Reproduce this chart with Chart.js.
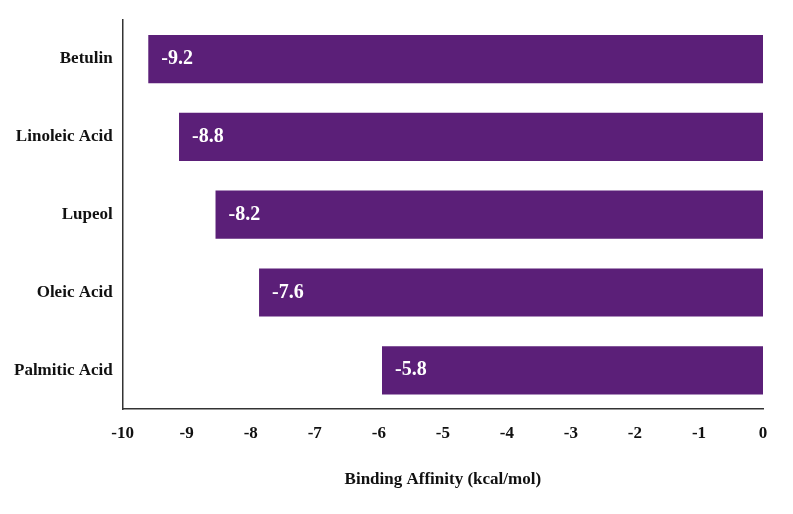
<!DOCTYPE html>
<html>
<head>
<meta charset="utf-8">
<script src="https://cdn.jsdelivr.net/npm/chart.js@4"></script>
<style>
  html, body { margin: 0; padding: 0; background: #fff; }
  #wrap { width: 793px; height: 514px; }
</style>
</head>
<body>
<div id="wrap"><canvas id="c"></canvas></div>
<script>
const compounds = ["Betulin", "Linoleic Acid", "Lupeol", "Oleic Acid", "Palmitic Acid"];
// bar ends
const barValues = [-9.6, -9.12, -8.55, -7.87, -5.95];
// value labels printed in the bars
const valueLabels = ["-9.2", "-8.8", "-8.2", "-7.6", "-5.8"];
const xTicks = [-10, -9, -8, -7, -6, -5, -4, -3, -2, -1, 0];

const FONT = "'Liberation Serif', 'Times New Roman', serif";

const barLabels = {
  id: "barLabels",
  afterDatasetsDraw(chart) {
    const ctx = chart.ctx;
    const meta = chart.getDatasetMeta(0);
    ctx.save();
    ctx.fillStyle = "#fff";
    ctx.font = "bold 20px " + FONT;
    ctx.textAlign = "left";
    ctx.textBaseline = "middle";
    meta.data.forEach((bar, i) => {
      ctx.fillText(valueLabels[i], bar.x + 13, bar.y);
    });
    ctx.restore();
  }
};

new Chart(document.getElementById("c"), {
  type: "bar",
  data: {
    labels: compounds,
    datasets: [{
      data: barValues,
      backgroundColor: "#5b1f78",
      barPercentage: 0.62,
      categoryPercentage: 1
    }]
  },
  options: {
    indexAxis: "y",
    responsive: true,
    maintainAspectRatio: false,
    animation: false,
    layout: { padding: { top: 12, right: 30, bottom: 20, left: 4 } },
    plugins: { legend: { display: false }, tooltip: { enabled: false } },
    scales: {
      x: {
        min: -10, max: 0,
        afterBuildTicks: axis => { axis.ticks = xTicks.map(v => ({ value: v })); },
        grid: { display: false, drawTicks: true, tickLength: 8, color: "#333" },
        border: { color: "#333", width: 1.5 },
        ticks: { color: "#111", font: { family: FONT, size: 17, weight: "bold" }, padding: 6 },
        title: { display: true, text: "Binding Affinity (kcal/mol)", color: "#111",
                 font: { family: FONT, size: 17, weight: "bold" }, padding: { top: 20 } }
      },
      y: {
        grid: { display: false, drawTicks: false },
        border: { color: "#333", width: 1.5 },
        ticks: { color: "#111", font: { family: FONT, size: 17, weight: "bold" }, padding: 10 }
      }
    }
  },
  plugins: [barLabels]
});
</script>
</body>
</html>
